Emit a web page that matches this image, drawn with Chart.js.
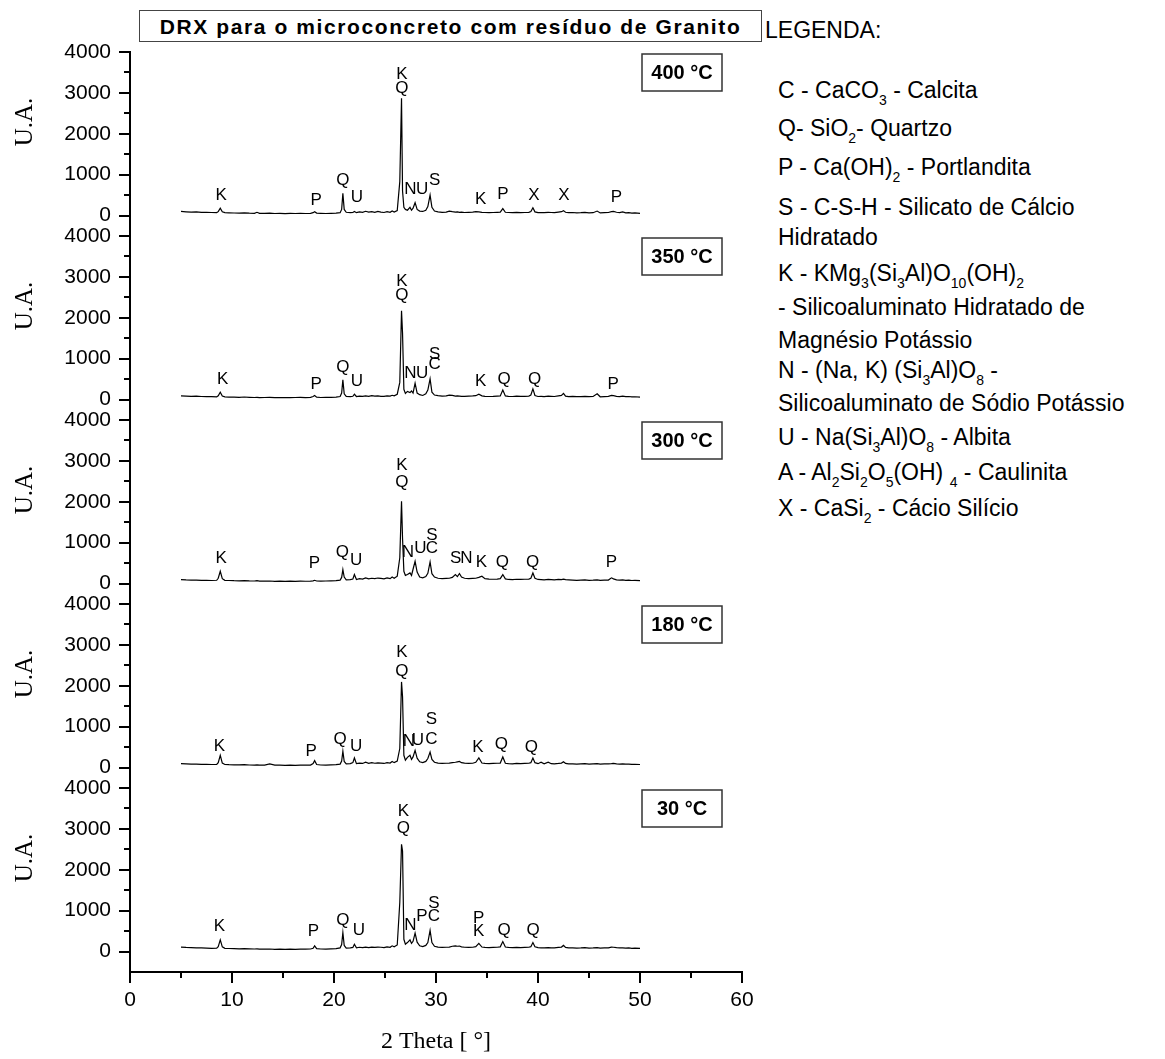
<!DOCTYPE html>
<html>
<head>
<meta charset="utf-8">
<script src="https://cdn.jsdelivr.net/npm/chart.js@4.4.0/dist/chart.umd.min.js"></script>
<style>
  body { margin: 0; background: #fff; width: 1165px; height: 1059px; position: relative; overflow: hidden;
         font-family: "Liberation Sans", Arial, sans-serif; color: #000; }
  canvas { position: absolute; left: 0; }
  #title { position: absolute; left: 139px; top: 10px; width: 621px; height: 30px; border: 1px solid #444;
           font-weight: bold; font-size: 21px; letter-spacing: 1.6px; line-height: 31px; text-align: center; white-space: nowrap; }
  .leg { position: absolute; left: 778px; font-size: 23px; line-height: 24px; white-space: nowrap; }
  .leg sub { font-size: 14px; vertical-align: -7px; line-height: 0; }
</style>
</head>
<body>
<div id="title">DRX para o microconcreto com resíduo de Granito</div>
<div class="leg" style="left:765px;top:18px">LEGENDA:</div>
<div class="leg" style="top:78px">C - CaCO<sub>3</sub> - Calcita</div>
<div class="leg" style="top:116px">Q- SiO<sub>2</sub>- Quartzo</div>
<div class="leg" style="top:155px">P - Ca(OH)<sub>2</sub> - Portlandita</div>
<div class="leg" style="top:195px">S - C-S-H - Silicato de Cálcio</div>
<div class="leg" style="top:225px">Hidratado</div>
<div class="leg" style="top:261px">K - KMg<sub>3</sub>(Si<sub>3</sub>Al)O<sub>10</sub>(OH)<sub>2</sub></div>
<div class="leg" style="top:295px">- Silicoaluminato Hidratado de</div>
<div class="leg" style="top:328px">Magnésio Potássio</div>
<div class="leg" style="top:358px">N - (Na, K) (Si<sub>3</sub>Al)O<sub>8</sub> -</div>
<div class="leg" style="top:391px">Silicoaluminato de Sódio Potássio</div>
<div class="leg" style="top:425px">U - Na(Si<sub>3</sub>Al)O<sub>8</sub> - Albita</div>
<div class="leg" style="top:460px">A - Al<sub>2</sub>Si<sub>2</sub>O<sub>5</sub>(OH) <sub>4</sub> - Caulinita</div>
<div class="leg" style="top:496px">X - CaSi<sub>2</sub> - Cácio Silício</div>

<canvas id="p0" width="770" height="256"></canvas>
<canvas id="p1" width="770" height="256"></canvas>
<canvas id="p2" width="770" height="256"></canvas>
<canvas id="p3" width="770" height="256"></canvas>
<canvas id="p4" width="770" height="310"></canvas>

<script>
// 2 theta positions (degrees), shared by all five patterns
const theta = [
  5.0, 5.5, 6.0, 6.5, 7.0, 7.5, 8.0, 8.5, 8.65, 8.85,
  9.05, 9.3, 9.7, 10.2, 10.7, 11.2, 11.7, 12.2, 12.45, 12.7,
  13.2, 13.7, 14.2, 14.7, 15.2, 15.7, 16.2, 16.7, 17.2, 17.7,
  17.95, 18.1, 18.3, 18.7, 19.2, 19.7, 20.2, 20.6, 20.75, 20.87,
  21.0, 21.2, 21.6, 21.85, 22.0, 22.2, 22.5, 22.8, 23.1, 23.4,
  23.7, 24.0, 24.3, 24.6, 24.9, 25.2, 25.5, 25.7, 25.9, 26.2,
  26.45, 26.62, 26.72, 26.85, 27.0, 27.2, 27.45, 27.6, 27.75, 27.95,
  28.15, 28.4, 28.7, 29.0, 29.2, 29.42, 29.6, 29.85, 30.2, 30.6,
  31.0, 31.3, 31.6, 31.9, 32.1, 32.3, 32.5, 32.8, 33.2, 33.6,
  33.9, 34.2, 34.5, 34.8, 35.2, 35.6, 36.0, 36.3, 36.55, 36.8,
  37.1, 37.5, 37.9, 38.3, 38.7, 39.1, 39.3, 39.5, 39.7, 40.0,
  40.3, 40.6, 41.0, 41.3, 41.6, 42.0, 42.3, 42.5, 42.7, 43.0,
  43.4, 43.8, 44.2, 44.6, 45.0, 45.4, 45.8, 46.1, 46.5, 46.9,
  47.2, 47.4, 47.7, 48.0, 48.3, 48.6, 48.9, 49.2, 49.5, 50.0
];

// intensities (U.A.) for each temperature
const ua400 = [
  100, 92, 85, 88, 80, 78, 75, 72, 95, 180,
  90, 70, 68, 62, 60, 65, 58, 55, 80, 55,
  52, 58, 50, 55, 48, 52, 50, 55, 50, 52,
  70, 95, 60, 55, 50, 55, 60, 70, 150, 545,
  150, 80, 70, 75, 100, 70, 90, 80, 105, 85,
  95, 80, 100, 85, 75, 95, 80, 110, 85, 120,
  830, 2870, 600, 200, 150, 130, 200, 130, 180, 315,
  150, 110, 100, 130, 220, 500, 200, 110, 90, 80,
  85, 110, 95, 85, 90, 80, 85, 75, 80, 85,
  95, 90, 80, 75, 70, 75, 80, 85, 170, 80,
  75, 70, 80, 72, 75, 80, 100, 190, 90, 70,
  75, 70, 80, 75, 70, 85, 95, 120, 80, 70,
  75, 65, 70, 80, 68, 70, 110, 65, 70, 75,
  95, 100, 80, 70, 90, 65, 70, 60, 65, 55
];
const ua350 = [
  90, 85, 80, 82, 75, 72, 70, 68, 90, 180,
  85, 65, 60, 58, 55, 62, 55, 50, 55, 48,
  50, 52, 48, 50, 45, 48, 50, 52, 48, 55,
  75, 100, 60, 50, 52, 55, 60, 75, 160, 480,
  140, 75, 70, 80, 130, 75, 85, 80, 90, 80,
  95, 85, 90, 80, 78, 90, 85, 105, 90, 130,
  420, 2170, 1620, 250, 150, 200, 170, 210, 160, 400,
  160, 120, 100, 140, 230, 505, 180, 110, 95, 85,
  90, 110, 100, 85, 90, 85, 80, 78, 82, 88,
  95, 130, 90, 80, 75, 78, 85, 90, 235, 90,
  80, 75, 82, 78, 80, 85, 110, 260, 100, 75,
  78, 72, 85, 80, 75, 90, 100, 150, 85, 72,
  76, 70, 72, 80, 70, 75, 140, 68, 72, 78,
  100, 95, 80, 72, 85, 70, 75, 65, 68, 60
];
const ua300 = [
  95, 88, 85, 85, 80, 78, 75, 80, 130, 300,
  120, 80, 75, 70, 68, 72, 65, 62, 70, 60,
  58, 62, 55, 60, 55, 58, 55, 60, 56, 58,
  65, 80, 62, 60, 62, 65, 70, 85, 150, 340,
  160, 90, 95, 110, 220, 100, 120, 110, 140, 115,
  130, 120, 135, 125, 115, 140, 120, 160, 130, 180,
  630, 2010, 1100, 300, 200, 220, 260, 200, 350, 545,
  280, 160, 140, 170, 250, 530, 240, 160, 130, 120,
  125, 130, 150, 220, 170, 245, 160, 130, 120, 125,
  130, 150, 180, 120, 110, 105, 110, 120, 220, 115,
  100, 95, 105, 100, 105, 110, 130, 260, 130, 100,
  95, 90, 100, 95, 90, 100, 95, 110, 95, 90,
  85, 80, 84, 88, 80, 82, 90, 80, 84, 86,
  140, 115, 90, 82, 88, 78, 82, 75, 78, 72
];
const ua180 = [
  95, 90, 85, 82, 80, 78, 75, 78, 120, 300,
  110, 75, 70, 68, 65, 70, 62, 60, 65, 58,
  60, 90, 58, 60, 55, 58, 55, 60, 58, 60,
  100, 170, 75, 62, 60, 65, 70, 85, 160, 400,
  150, 90, 95, 120, 235, 95, 110, 100, 130, 105,
  120, 105, 115, 110, 100, 120, 110, 150, 120, 160,
  465, 2095, 1730, 300, 180, 250, 300, 200, 260, 420,
  230, 140, 120, 150, 220, 380, 200, 130, 110, 100,
  105, 110, 120, 130, 140, 150, 120, 110, 100, 105,
  130, 235, 110, 100, 95, 100, 105, 110, 260, 105,
  95, 90, 100, 95, 100, 105, 120, 235, 120, 95,
  130, 90, 130, 95, 90, 100, 110, 140, 100, 90,
  92, 85, 90, 95, 85, 90, 95, 85, 88, 90,
  95, 100, 88, 85, 90, 82, 85, 78, 80, 75
];
const ua30 = [
  110, 100, 95, 92, 88, 85, 80, 82, 120, 285,
  115, 80, 75, 72, 68, 70, 65, 62, 65, 60,
  58, 62, 55, 58, 55, 58, 55, 60, 58, 62,
  80, 140, 70, 62, 60, 65, 70, 90, 170, 465,
  150, 85, 90, 100, 180, 90, 105, 95, 110, 95,
  110, 100, 110, 105, 95, 115, 105, 140, 115, 160,
  1200, 2625, 2460, 300, 180, 220, 285, 200, 250, 450,
  230, 140, 120, 150, 220, 520, 220, 130, 110, 100,
  105, 110, 130, 140, 130, 135, 115, 105, 100, 105,
  120, 200, 110, 100, 95, 100, 105, 115, 245, 110,
  100, 95, 100, 95, 100, 105, 120, 220, 115, 95,
  90, 88, 95, 90, 88, 100, 110, 150, 100, 90,
  92, 85, 88, 95, 85, 88, 95, 85, 88, 90,
  110, 105, 95, 88, 90, 85, 88, 80, 82, 78
];

const temps = ['400 °C', '350 °C', '300 °C', '180 °C', '30 °C'];

// phase letters: [letter, 2theta, U.A.]
const marks400 = [['K', 8.93, 489], ['P', 18.25, 367], ['Q', 20.87, 856], ['U', 22.24, 448],
  ['K', 26.65, 3464], ['Q', 26.65, 3121], ['N', 27.48, 652], ['U', 28.63, 652], ['S', 29.86, 856],
  ['K', 34.38, 407], ['P', 36.57, 530], ['X', 39.61, 489], ['X', 42.55, 489], ['P', 47.69, 448]];
const marks350 = [['K', 9.09, 489], ['P', 18.25, 383], ['Q', 20.87, 790], ['U', 22.24, 448],
  ['K', 26.65, 2893], ['Q', 26.65, 2551], ['N', 27.48, 652], ['U', 28.63, 652], ['S', 29.86, 1100],
  ['C', 29.86, 856], ['K', 34.38, 448], ['Q', 36.67, 489], ['Q', 39.67, 489], ['P', 47.36, 383]];
const marks300 = [['K', 8.93, 611], ['P', 18.09, 489], ['Q', 20.81, 774], ['U', 22.18, 570],
  ['K', 26.65, 2893], ['Q', 26.65, 2486], ['N', 27.24, 758], ['U', 28.46, 856], ['C', 29.6, 856],
  ['S', 29.6, 1182], ['S', 31.92, 611], ['N', 32.97, 611], ['K', 34.45, 530], ['Q', 36.51, 530],
  ['Q', 39.46, 530], ['P', 47.2, 530]];
const marks180 = [['K', 8.76, 530], ['P', 17.76, 407], ['Q', 20.61, 693], ['U', 22.18, 530],
  ['K', 26.65, 2812], ['Q', 26.65, 2363], ['N', 27.34, 652], ['U', 28.23, 676], ['S', 29.54, 1182],
  ['C', 29.54, 693], ['K', 34.12, 489], ['Q', 36.41, 570], ['Q', 39.36, 489]];
const marks30 = [['K', 8.76, 611], ['P', 17.98, 489], ['Q', 20.87, 758], ['U', 22.44, 530],
  ['K', 26.81, 3423], ['Q', 26.81, 3015], ['N', 27.48, 652], ['P', 28.63, 856], ['S', 29.8, 1182],
  ['C', 29.8, 856], ['P', 34.19, 815], ['K', 34.19, 489], ['Q', 36.67, 530], ['Q', 39.52, 530]];

const series = [ua400, ua350, ua300, ua180, ua30];
const marks = [marks400, marks350, marks300, marks180, marks30];

const decor = {
  id: 'decor',
  afterDraw(chart, args, opts) {
    const { ctx, chartArea: a, scales: { x, y } } = chart;
    ctx.save();
    ctx.strokeStyle = '#000';
    ctx.fillStyle = '#000';
    ctx.lineWidth = 2;
    // y ticks, long at the labelled ones
    y.ticks.forEach(t => {
      const py = Math.round(y.getPixelForValue(t.value));
      const len = t.value % 1000 === 0 ? 11 : 6;
      ctx.beginPath(); ctx.moveTo(a.left - len, py); ctx.lineTo(a.left, py); ctx.stroke();
    });
    ctx.textAlign = 'center';
    ctx.textBaseline = 'middle';
    if (opts.showX) {
      x.ticks.forEach(t => {
        const px = Math.round(x.getPixelForValue(t.value));
        const len = t.value % 10 === 0 ? 11 : 6;
        ctx.beginPath(); ctx.moveTo(px, a.bottom); ctx.lineTo(px, a.bottom + len); ctx.stroke();
      });
      ctx.font = '24px "Liberation Serif"';
      ctx.fillText('2 Theta [ °]', (a.left + a.right) / 2, a.bottom + 70);
    }
    // phase letters
    ctx.font = '17px "Liberation Sans"';
    opts.marks.forEach(([s, tx, ty]) => ctx.fillText(s, x.getPixelForValue(tx), y.getPixelForValue(ty)));
    // temperature box
    ctx.lineWidth = 1.5;
    ctx.strokeStyle = '#333';
    ctx.strokeRect(a.right - 100, a.top + 2, 80, 37);
    ctx.font = 'bold 20px "Liberation Sans"';
    ctx.fillText(opts.temp, a.right - 60, a.top + 21);
    // y title
    ctx.translate(25, a.top + 70);
    ctx.rotate(-Math.PI / 2);
    ctx.font = '25px "Liberation Serif"';
    ctx.fillText('U.A.', 0, 0);
    ctx.restore();
  }
};

const PAD = 36;
series.forEach((vals, k) => {
  const last = k === series.length - 1;
  const cv = document.getElementById('p' + k);
  cv.style.top = (52 + 184 * k - PAD) + 'px';
  const xScale = {
    type: 'linear', min: 0, max: 60,
    display: last,
    grid: { display: false, drawTicks: false },
    border: { display: true, color: '#000', width: 2 },
    ticks: {
      stepSize: 5, padding: 16, color: '#000',
      font: { family: 'Liberation Sans', size: 21 },
      maxRotation: 0, autoSkip: false,
      callback: v => v % 10 === 0 ? String(v) : ''
    }
  };
  if (last) xScale.afterFit = s => { s.height = 90; };
  new Chart(cv, {
    type: 'line',
    data: {
      datasets: [{
        data: theta.map((t, i) => ({ x: t, y: vals[i] })),
        borderColor: '#000',
        borderWidth: 1.2,
        pointRadius: 0,
        tension: 0
      }]
    },
    options: {
      responsive: false,
      animation: false,
      layout: { padding: { top: PAD, bottom: last ? 0 : PAD, left: 0, right: 28 } },
      plugins: {
        legend: { display: false },
        tooltip: { enabled: false },
        decor: { temp: temps[k], marks: marks[k], showX: last }
      },
      scales: {
        x: xScale,
        y: {
          min: -500, max: 4000,
          grid: { display: false, drawTicks: false },
          border: { display: true, color: '#000', width: 2 },
          ticks: {
            stepSize: 500, padding: 19, color: '#000',
            font: { family: 'Liberation Sans', size: 21 },
            autoSkip: false,
            callback: v => v % 1000 === 0 ? String(v) : ''
          },
          afterBuildTicks: s => { s.ticks = s.ticks.filter(t => t.value >= 0); },
          afterFit: s => { s.width = 130; }
        }
      }
    },
    plugins: [decor]
  });
});
</script>
</body>
</html>
